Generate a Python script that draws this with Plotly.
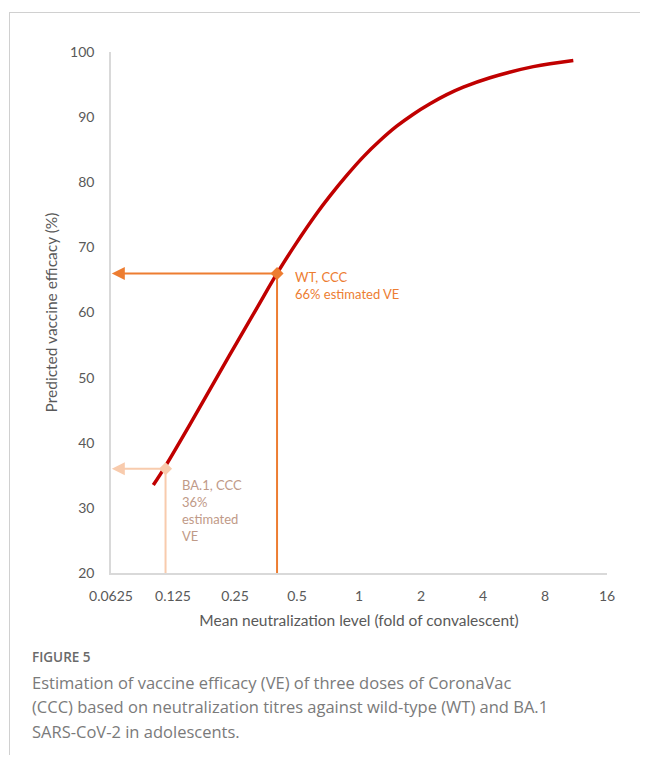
import math
import plotly.graph_objects as go

# Data
curve_x = [0.1003, 0.1143, 0.1568, 0.2038, 0.2548, 0.3208, 0.4, 0.489, 0.623,
           0.723, 0.872, 1.049, 1.265, 1.524, 1.835, 2.212, 2.666, 3.209,
           4.325, 7.02, 10.98]
curve_y = [33.5, 36.3, 43.7, 50.0, 55.35, 60.8, 66.0, 70.35, 75.2,
           77.9, 81.05, 83.9, 86.4, 88.6, 90.45, 92.05, 93.45, 94.6,
           96.05, 97.75, 98.7]

wt_x, wt_y = 0.4, 66
ba1_x, ba1_y = 0.115, 36

x_tickvals = [0.0625, 0.125, 0.25, 0.5, 1, 2, 4, 8, 16]
x_ticktext = ["0.0625", "0.125", "0.25", "0.5", "1", "2", "4", "8", "16"]
y_tickvals = [20, 30, 40, 50, 60, 70, 80, 90, 100]

x_min, x_max = 0.0625, 16
y_min, y_max = 20, 100

ORANGE = "#ED7D31"
PEACH = "#F8CBAD"
TAN = "#BF9A88"
RED = "#C00000"
AXIS = "#D9D9D9"
TEXT = "#595959"
FONT = "Lato"

fig = go.Figure()

# vertical drop lines
fig.add_trace(go.Scatter(x=[wt_x, wt_x], y=[wt_y, y_min], mode="lines",
                         line=dict(color=ORANGE, width=2), hoverinfo="skip"))
fig.add_trace(go.Scatter(x=[ba1_x, ba1_x], y=[ba1_y, y_min], mode="lines",
                         line=dict(color=PEACH, width=2), hoverinfo="skip"))

# curve
fig.add_trace(go.Scatter(x=curve_x, y=curve_y, mode="lines",
                         line=dict(color=RED, width=3.5, shape="spline", smoothing=1.0)))

# intersection markers
fig.add_trace(go.Scatter(x=[wt_x], y=[wt_y], mode="markers",
                         marker=dict(symbol="diamond", size=10, color=ORANGE), cliponaxis=False))
fig.add_trace(go.Scatter(x=[ba1_x], y=[ba1_y], mode="markers",
                         marker=dict(symbol="diamond", size=10, color=PEACH), cliponaxis=False))

lx0 = math.log10(x_min)
annotations = [
    dict(x=lx0 + 0.004, y=wt_y, xref="x", yref="y", ax=math.log10(wt_x), ay=wt_y,
         axref="x", ayref="y", showarrow=True, arrowhead=2, arrowsize=1.3,
         arrowwidth=2, arrowcolor=ORANGE, text=""),
    dict(x=lx0 + 0.004, y=ba1_y, xref="x", yref="y", ax=math.log10(ba1_x), ay=ba1_y,
         axref="x", ayref="y", showarrow=True, arrowhead=2, arrowsize=1.3,
         arrowwidth=2, arrowcolor=PEACH, text=""),
    dict(x=math.log10(wt_x), y=wt_y, xref="x", yref="y", xshift=16, yshift=6,
         xanchor="left", yanchor="top", align="left", showarrow=False,
         text="WT, CCC<br>66% estimated VE",
         font=dict(family=FONT, size=13, color=ORANGE)),
    dict(x=math.log10(ba1_x), y=ba1_y, xref="x", yref="y", xshift=14, yshift=-6,
         xanchor="left", yanchor="top", align="left", showarrow=False,
         text="BA.1, CCC<br>36%<br>estimated<br>VE",
         font=dict(family=FONT, size=13, color=TAN)),
]

# caption positions: page pixels -> paper coords (plot area spans x 111..607, y 52..573 on the page)
def px_x(px):
    return (px - 111) / 496

def px_y(py):
    return (573 - py) / 521

caption_lines = [
    ("FIGURE 5", 657, 13.5, "#6A6A6A", 600),
    ("Estimation of vaccine efficacy (VE) of three doses of CoronaVac", 682, 16.5, "#7A7A7A", 400),
    ("(CCC) based on neutralization titres against wild-type (WT) and BA.1", 706, 16.5, "#7A7A7A", 400),
    ("SARS-CoV-2 in adolescents.", 731, 16.5, "#7A7A7A", 400),
]
for txt, py, fs, col, wt in caption_lines:
    annotations.append(dict(x=px_x(30), y=px_y(py), xref="paper", yref="paper",
                            xanchor="left", yanchor="middle", showarrow=False,
                            text=txt, font=dict(family="Open Sans", size=fs, color=col, weight=wt)))

shapes = [
    dict(type="line", xref="paper", yref="paper", x0=px_x(9.5), x1=px_x(9.5),
         y0=px_y(12), y1=px_y(780), line=dict(color="#D0D0D0", width=1)),
    dict(type="line", xref="paper", yref="paper", x0=px_x(9.5), x1=px_x(660),
         y0=px_y(12.5), y1=px_y(12.5), line=dict(color="#D0D0D0", width=1)),
]

# the page body adds an 8px margin, so the figure is sized/margined to compensate
fig.update_layout(
    width=632, height=747,
    margin=dict(l=103, r=33, t=44, b=182),
    paper_bgcolor="white", plot_bgcolor="white",
    showlegend=False,
    annotations=annotations,
    shapes=shapes,
    font=dict(family=FONT, color=TEXT),
    xaxis=dict(type="log", range=[math.log10(x_min), math.log10(x_max)],
               tickvals=x_tickvals, ticktext=x_ticktext,
               showline=True, linecolor=AXIS, linewidth=1.5,
               showgrid=False, zeroline=False, ticks="",
               ticklabelstandoff=9,
               tickfont=dict(family=FONT, size=14, color=TEXT),
               title=dict(text="Mean neutralization level (fold of convalescent)",
                          font=dict(family=FONT, size=15.5, color=TEXT), standoff=13)),
    yaxis=dict(range=[y_min, y_max], tickvals=y_tickvals,
               showline=True, linecolor=AXIS, linewidth=1.5,
               showgrid=False, zeroline=False, ticks="",
               ticklabelstandoff=12,
               tickfont=dict(family=FONT, size=14, color=TEXT),
               title=dict(text="Predicted vaccine efficacy (%)",
                          font=dict(family=FONT, size=15.5, color=TEXT), standoff=9)),
)

fig.write_html("out.html")
